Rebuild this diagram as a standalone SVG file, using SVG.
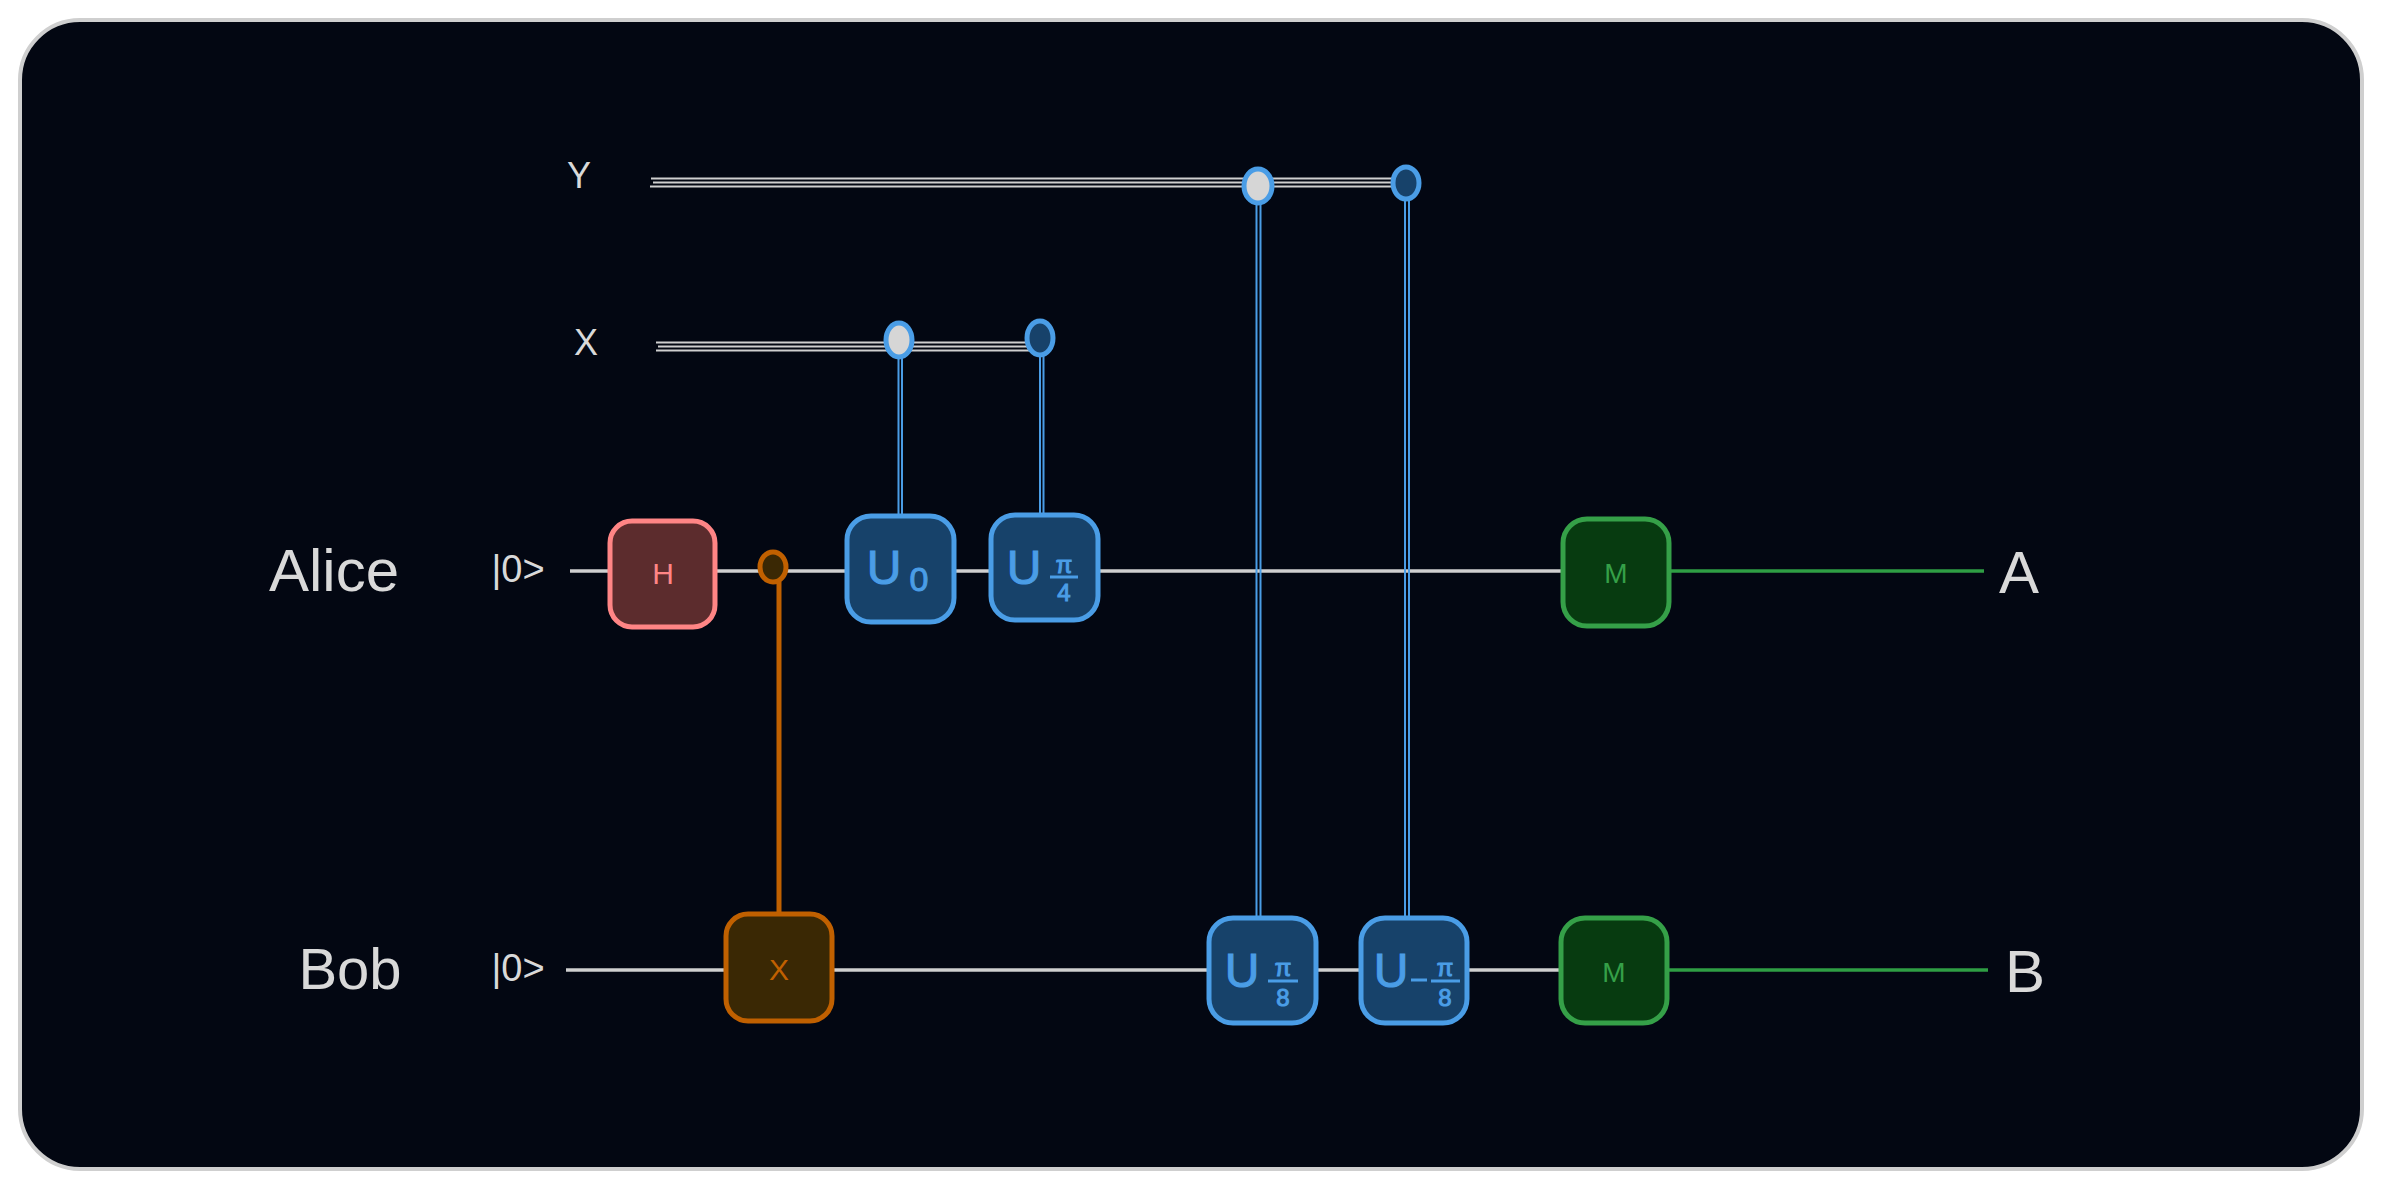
<svg xmlns="http://www.w3.org/2000/svg" width="2382" height="1189" viewBox="0 0 2382 1189">
<style>
.lbl{font-family:"Liberation Sans",Arial,sans-serif;fill:#d9d9d9;text-anchor:middle}
.gt{font-family:"Liberation Sans",Arial,sans-serif;text-anchor:middle}
.wire{stroke:#cfcfcf;stroke-width:3.5;fill:none}
.cwire{stroke:#cfcfcf;stroke-width:2;fill:none}
.gwire{stroke:#2f9e44;stroke-width:3.5;fill:none}
.bl{stroke:#4a9de6;stroke-width:2;fill:none}
.ol{stroke:#c06000;stroke-width:5;fill:none}
.blue rect{fill:#17426a;stroke:#4a9de6;stroke-width:5}
.blue text{fill:#4a9de6;stroke:#4a9de6;stroke-width:1}
.green rect{fill:#073b10;stroke:#35a048;stroke-width:5}
.green text{fill:#35a048}
</style>
<rect x="0" y="0" width="2382" height="1189" fill="#ffffff"/>
<rect x="20" y="20" width="2342" height="1149" rx="60" fill="#030712" stroke="#cfcfcf" stroke-width="4"/>

<g id="labels">
<text class="lbl" x="579" y="188" font-size="36">Y</text>
<text class="lbl" x="586" y="355" font-size="36">X</text>
<text class="lbl" x="334" y="591" font-size="60">Alice</text>
<text class="lbl" x="350" y="989" font-size="58">Bob</text>
<text class="lbl" x="518" y="582" font-size="38">|0&gt;</text>
<text class="lbl" x="518" y="981" font-size="38">|0&gt;</text>
<text class="lbl" x="2019" y="593" font-size="60">A</text>
<text class="lbl" x="2025" y="992" font-size="60">B</text>
</g>

<g id="connectors">
<line class="wire" x1="570" y1="571" x2="1563" y2="571"/>
<line class="gwire" x1="1669" y1="571" x2="1984" y2="571"/>
<line class="wire" x1="566" y1="970" x2="1561" y2="970"/>
<line class="gwire" x1="1667" y1="970" x2="1988" y2="970"/>
<line class="cwire" x1="651" y1="178.5" x2="1406" y2="178.5"/>
<line class="cwire" x1="653" y1="182.5" x2="1406" y2="182.5"/>
<line class="cwire" x1="650" y1="186.5" x2="1406" y2="186.5"/>
<line class="cwire" x1="656" y1="342.5" x2="1040" y2="342.5"/>
<line class="cwire" x1="658" y1="346.5" x2="1040" y2="346.5"/>
<line class="cwire" x1="656" y1="350.5" x2="1040" y2="350.5"/>
<line class="bl" x1="1256.5" y1="203" x2="1256.5" y2="918"/>
<line class="bl" x1="1260.5" y1="203" x2="1260.5" y2="918"/>
<line class="bl" x1="1405" y1="199" x2="1405" y2="918"/>
<line class="bl" x1="1409" y1="199" x2="1409" y2="918"/>
<line class="bl" x1="898.5" y1="356" x2="898.5" y2="516"/>
<line class="bl" x1="902" y1="356" x2="902" y2="516"/>
<line class="bl" x1="1040" y1="354" x2="1040" y2="515"/>
<line class="bl" x1="1043.5" y1="354" x2="1043.5" y2="515"/>
<line class="ol" x1="779" y1="582" x2="779" y2="914"/>
</g>

<g id="ctrl-y1"><ellipse cx="1258" cy="186" rx="14" ry="17" fill="#d6d6d6" stroke="#4a9de6" stroke-width="5"/></g>
<g id="ctrl-y2"><ellipse cx="1406" cy="183" rx="13" ry="16" fill="#17426a" stroke="#4a9de6" stroke-width="5"/></g>
<g id="ctrl-x1"><ellipse cx="899" cy="340" rx="13" ry="17" fill="#d6d6d6" stroke="#4a9de6" stroke-width="5"/></g>
<g id="ctrl-x2"><ellipse cx="1040" cy="338" rx="13" ry="17" fill="#17426a" stroke="#4a9de6" stroke-width="5"/></g>
<g id="ctrl-cnot"><ellipse cx="773" cy="567" rx="13" ry="15" fill="#3a2804" stroke="#c06000" stroke-width="5"/></g>

<g id="gate-h">
<rect x="610" y="521" width="105" height="106" rx="22" fill="#5c2c2d" stroke="#ff8585" stroke-width="5"/>
<text class="gt" x="663" y="584" font-size="30" fill="#ff8585">H</text>
</g>
<g id="gate-x">
<rect x="726" y="914" width="106" height="107" rx="22" fill="#3a2804" stroke="#c06000" stroke-width="5"/>
<text class="gt" x="779" y="980" font-size="30" fill="#c06000">X</text>
</g>
<g id="gate-u0" class="blue">
<rect x="847" y="516" width="107" height="106" rx="24"/>
<text class="gt" x="884" y="584" font-size="48">U</text>
<text class="gt" x="919" y="591" font-size="34">0</text>
</g>
<g id="gate-upi4" class="blue">
<rect x="991" y="515" width="107" height="105" rx="24"/>
<text class="gt" x="1024" y="584" font-size="48">U</text>
<text class="gt" x="1064" y="573" font-size="24">π</text>
<line x1="1050" y1="577" x2="1078" y2="577" stroke="#4a9de6" stroke-width="3"/>
<text class="gt" x="1064" y="601" font-size="24">4</text>
</g>
<g id="gate-upi8" class="blue">
<rect x="1209" y="918" width="107" height="105" rx="24"/>
<text class="gt" x="1242" y="987" font-size="48">U</text>
<text class="gt" x="1283" y="976" font-size="24">π</text>
<line x1="1268" y1="981" x2="1298" y2="981" stroke="#4a9de6" stroke-width="3"/>
<text class="gt" x="1283" y="1006" font-size="24">8</text>
</g>
<g id="gate-umpi8" class="blue">
<rect x="1361" y="918" width="106" height="105" rx="24"/>
<text class="gt" x="1391" y="987" font-size="48">U</text>
<line x1="1411" y1="980" x2="1427" y2="980" stroke="#4a9de6" stroke-width="3"/>
<text class="gt" x="1445" y="976" font-size="24">π</text>
<line x1="1431" y1="981" x2="1460" y2="981" stroke="#4a9de6" stroke-width="3"/>
<text class="gt" x="1445" y="1006" font-size="24">8</text>
</g>
<g id="meas-a" class="green">
<rect x="1563" y="519" width="106" height="107" rx="24"/>
<text class="gt" x="1616" y="583" font-size="28">M</text>
</g>
<g id="meas-b" class="green">
<rect x="1561" y="918" width="106" height="105" rx="24"/>
<text class="gt" x="1614" y="982" font-size="28">M</text>
</g>
</svg>
